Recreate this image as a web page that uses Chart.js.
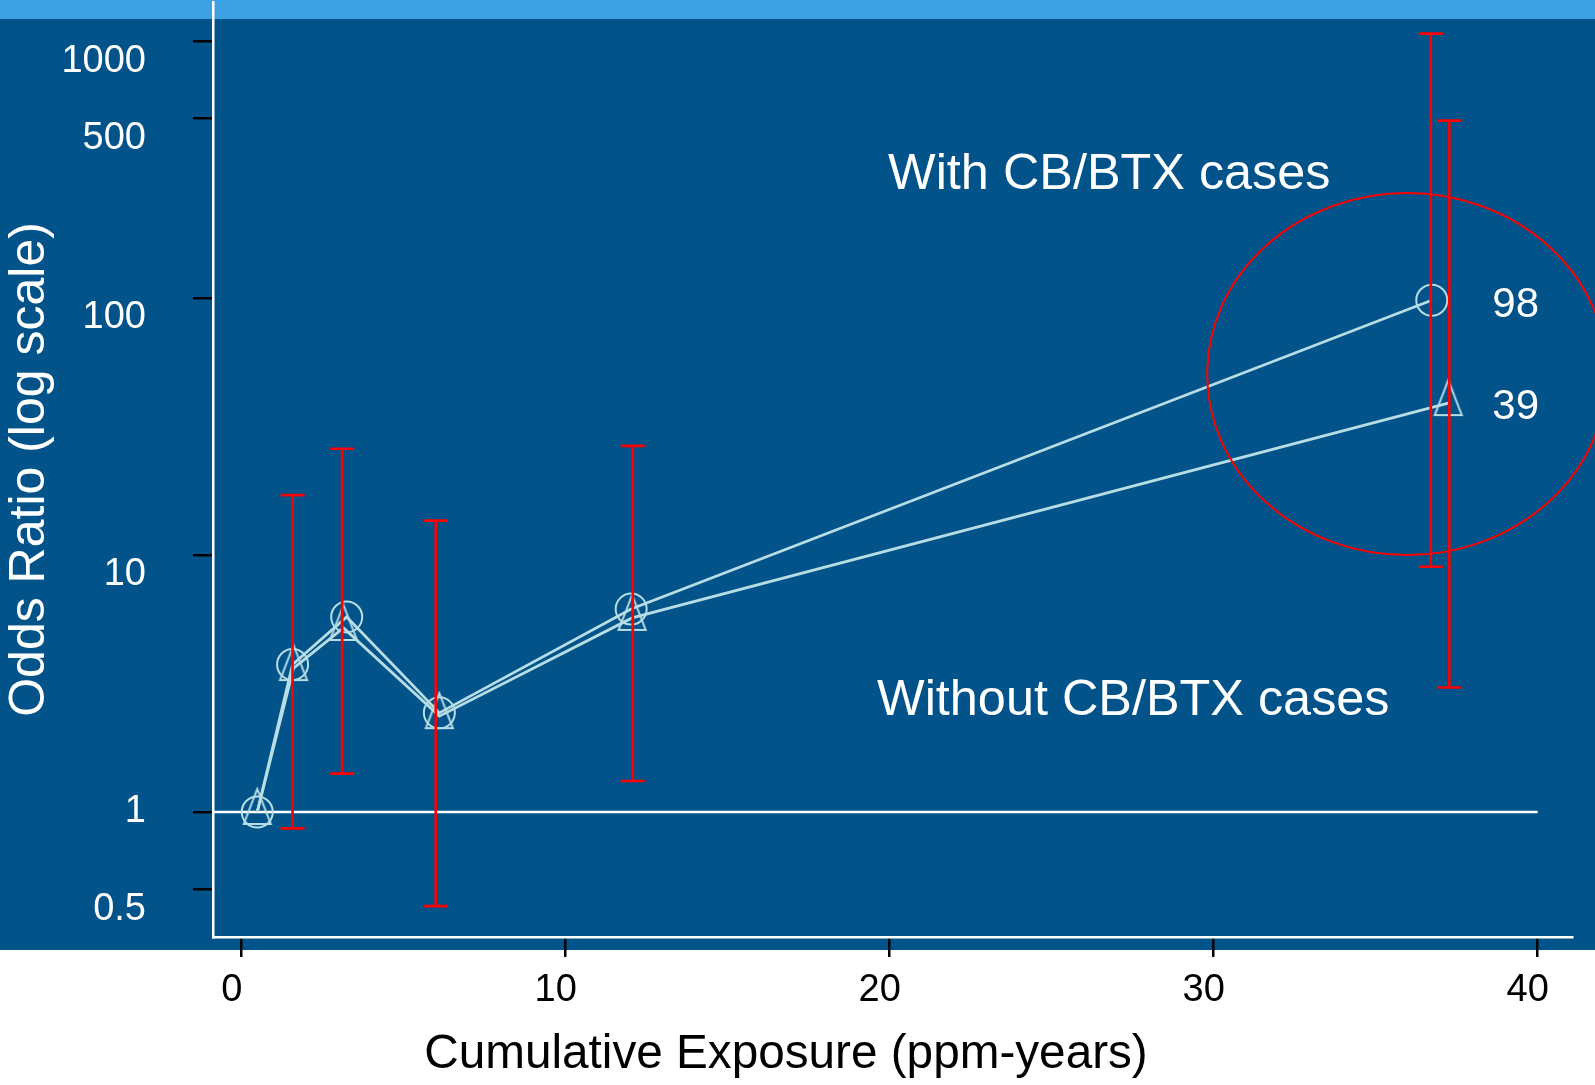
<!DOCTYPE html>
<html><head><meta charset="utf-8">
<script src="https://cdn.jsdelivr.net/npm/chart.js@4/dist/chart.umd.min.js"></script>
<style>html,body{margin:0;padding:0;background:#fff;overflow:hidden}#wrap{width:1595px;height:1085px;position:relative}</style>
</head><body><div id="wrap"><canvas id="c"></canvas></div>
<script>
// ---- data ----
const xWith = [0.48, 1.57, 3.24, 6.10, 12.02, 36.73];
const orWith = [1.0, 3.75, 5.74, 2.43, 6.16, 98];
const xWithout = [0.48, 1.60, 3.14, 6.10, 12.05, 37.24];
const orWithout = [1.0, 3.63, 5.2, 2.36, 5.69, 39];
const ciX = [1.57, 3.10, 5.99, 12.07, 36.70, 37.27];
const ciLow = [0.864, 1.41, 0.43, 1.32, 9.0, 3.05];
const ciHigh = [17.1, 25.9, 13.6, 26.6, 1068, 490];
const xTickValues = [0, 10, 20, 30, 40];
const yTickValues = [0.5, 1, 10, 100, 500, 1000];
const yTickLabels = ['0.5', '1', '10', '100', '500', '1000'];
const seriesNames = ['With CB/BTX cases', 'Without CB/BTX cases'];
const referenceOR = 1;
const referenceXEnd = 40;

// ---- styles / annotation placement ----
const DARK = '#01538a', LIGHT = '#3ea1e2', CYAN = '#b8dde5', RED = '#ff0000';
const FONT = '"Liberation Sans", Arial, sans-serif';
const annotations = [
  {text: seriesNames[0], x: 19.95, y: 265.6},
  {text: seriesNames[1], x: 19.61, y: 2.385}
];
const ellipse = {x: 35.97, y: 50.6, rx: 200, ry: 181};
const valueLabelX = 38.6;

function makeTriangle(color) {
  const c = document.createElement('canvas');
  c.width = 32; c.height = 50;
  const g = c.getContext('2d');
  g.strokeStyle = color; g.lineWidth = 2;
  g.beginPath(); g.moveTo(16, 2); g.lineTo(29.5, 37); g.lineTo(2.5, 37); g.closePath(); g.stroke();
  return c;
}
const tri = makeTriangle(CYAN);

const bgPlugin = {
  id: 'bg',
  beforeDraw(chart) {
    const {ctx, width, height} = chart;
    ctx.save();
    ctx.fillStyle = '#ffffff'; ctx.fillRect(0, 0, width, height);
    ctx.fillStyle = DARK; ctx.fillRect(0, 19, width, 931);
    ctx.fillStyle = LIGHT; ctx.fillRect(0, 0, width, 19);
    ctx.restore();
  }
};

const refLinePlugin = {
  id: 'refline',
  beforeDatasetsDraw(chart) {
    const {ctx, chartArea, scales} = chart;
    const y = scales.y.getPixelForValue(referenceOR);
    ctx.save();
    ctx.strokeStyle = '#ffffff'; ctx.lineWidth = 2.5;
    ctx.beginPath(); ctx.moveTo(chartArea.left, y); ctx.lineTo(scales.x.getPixelForValue(referenceXEnd), y); ctx.stroke();
    ctx.restore();
  }
};

const overlayPlugin = {
  id: 'overlay',
  afterDatasetsDraw(chart) {
    const {ctx, scales} = chart;
    const sx = v => scales.x.getPixelForValue(v), sy = v => scales.y.getPixelForValue(v);
    ctx.save();
    // error bars
    ctx.strokeStyle = RED; ctx.lineWidth = 2.7;
    for (let i = 0; i < ciX.length; i++) {
      const x = sx(ciX[i]), y1 = sy(ciLow[i]), y2 = sy(ciHigh[i]);
      ctx.beginPath();
      ctx.moveTo(x, y1); ctx.lineTo(x, y2);
      ctx.moveTo(x - 12, y1); ctx.lineTo(x + 12, y1);
      ctx.moveTo(x - 12, y2); ctx.lineTo(x + 12, y2);
      ctx.stroke();
    }
    // ellipse
    ctx.lineWidth = 2;
    ctx.beginPath();
    ctx.ellipse(sx(ellipse.x), sy(ellipse.y), ellipse.rx, ellipse.ry, 0, 0, Math.PI * 2);
    ctx.stroke();
    // annotations
    ctx.fillStyle = '#ffffff';
    ctx.font = '50.4px ' + FONT;
    ctx.textBaseline = 'alphabetic'; ctx.textAlign = 'left';
    annotations.forEach(a => ctx.fillText(a.text, sx(a.x), sy(a.y)));
    // end-point value labels
    ctx.font = '42px ' + FONT;
    ctx.textBaseline = 'middle';
    const lastWith = orWith[orWith.length - 1], lastWithout = orWithout[orWithout.length - 1];
    ctx.fillText(String(lastWith), sx(valueLabelX), sy(lastWith) + 5);
    ctx.fillText(String(lastWithout), sx(valueLabelX), sy(lastWithout) + 4);
    ctx.restore();
  }
};

const tickFont = {family: FONT, size: 38};

new Chart(document.getElementById('c'), {
  type: 'scatter',
  data: {
    datasets: [
      {
        label: seriesNames[0],
        data: xWith.map((x, i) => ({x, y: orWith[i]})),
        showLine: true, borderColor: CYAN, borderWidth: 2.8,
        pointStyle: 'circle', pointRadius: 15.5, pointHoverRadius: 15.5,
        pointBorderWidth: 2, pointBorderColor: CYAN, pointBackgroundColor: 'rgba(0,0,0,0)'
      },
      {
        label: seriesNames[1],
        data: xWithout.map((x, i) => ({x, y: orWithout[i]})),
        showLine: true, borderColor: CYAN, borderWidth: 2.8,
        pointStyle: tri, pointRadius: 16, pointHoverRadius: 16,
        pointBorderWidth: 2, pointBorderColor: CYAN, pointBackgroundColor: 'rgba(0,0,0,0)'
      }
    ]
  },
  options: {
    responsive: true, maintainAspectRatio: false, animation: false,
    events: [],
    layout: {autoPadding: false, padding: {top: 2, right: 23, left: 0, bottom: 0}},
    plugins: {
      legend: {display: false},
      tooltip: {enabled: false},
      title: {
        display: true, position: 'bottom', text: 'Cumulative Exposure (ppm-years)', color: '#000000',
        font: {family: FONT, size: 47.7, weight: 'normal', lineHeight: 1.2},
        padding: {top: 0, bottom: 2}
      }
    },
    scales: {
      x: {
        type: 'linear', min: -0.886, max: 41.058, bounds: 'data',
        afterBuildTicks: s => { s.ticks = xTickValues.map(v => ({value: v})); },
        afterFit: s => { s.height = 88.8; s.paddingLeft = 0; s.paddingRight = 0; },
        grid: {drawOnChartArea: false, drawTicks: true, tickLength: 20, color: '#000000', lineWidth: 2.5, tickWidth: 2.5},
        border: {display: true, color: '#ffffff', width: 2.5},
        ticks: {color: '#000000', font: tickFont, padding: 11, labelOffset: -10, maxRotation: 0, minRotation: 0, autoSkip: false,
          callback: v => String(v)}
      },
      y: {
        type: 'logarithmic', min: 0.3263, max: 1418.5, bounds: 'data',
        afterBuildTicks: s => { s.ticks = yTickValues.map(v => ({value: v})); },
        afterFit: s => { s.width = 213; s.paddingTop = 0; s.paddingBottom = 0; },
        grid: {drawOnChartArea: false, drawTicks: true, tickLength: 20, color: '#000000', lineWidth: 2.5, tickWidth: 2.5},
        border: {display: true, color: '#ffffff', width: 2.5},
        ticks: {color: '#ffffff', font: {family: FONT, size: 38, lineHeight: '40px'}, padding: 47, autoSkip: false,
          callback: v => {
            const lab = yTickLabels[yTickValues.indexOf(v)];
            return v === referenceOR ? lab : ['', lab];
          }},
        title: {display: true, text: 'Odds Ratio (log scale)', color: '#ffffff',
          font: {family: FONT, size: 50, lineHeight: 1.2}, padding: {top: 0, bottom: 0}}
      }
    }
  },
  plugins: [bgPlugin, refLinePlugin, overlayPlugin]
});
</script>
</body></html>
